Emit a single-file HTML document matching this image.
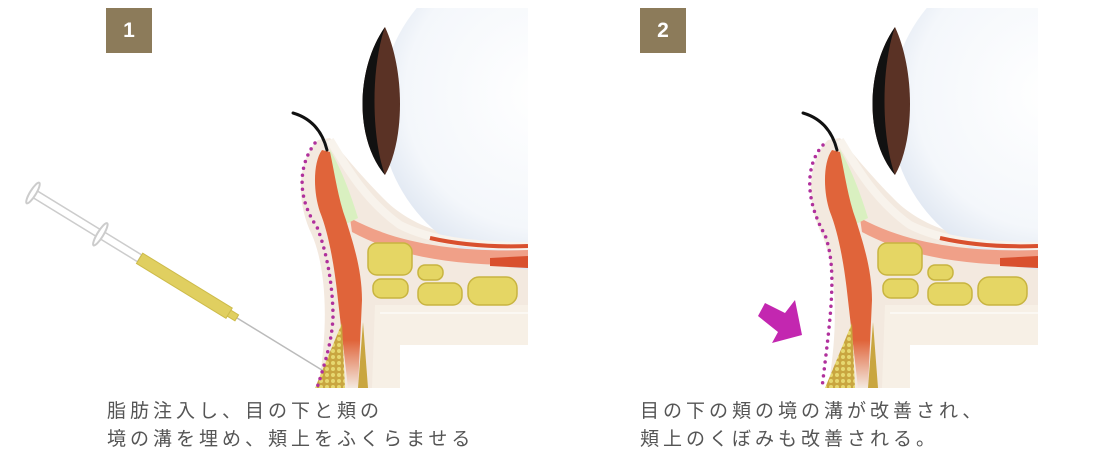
<!DOCTYPE html>
<html><head><meta charset="utf-8"><style>
html,body{margin:0;padding:0;background:#fff;}
body{width:1100px;height:466px;overflow:hidden;position:relative;font-family:"Liberation Sans","Noto Sans CJK JP",sans-serif;}
.badge{position:absolute;top:8px;width:46px;height:45px;background:#8c7b5a;color:#fff;font-weight:bold;font-size:21px;text-align:center;line-height:45px;}
.cap{position:absolute;top:398px;font-size:19px;letter-spacing:4px;line-height:28px;color:#555;font-family:"Liberation Sans","Noto Sans CJK JP",sans-serif;white-space:nowrap;}
svg{position:absolute;left:0;top:0;}
</style></head><body>
<svg width="1100" height="466" viewBox="0 0 1100 466">
<defs>
<radialGradient id="eg" cx="0.5" cy="0.45" r="0.6">
<stop offset="0" stop-color="#ffffff"/><stop offset="0.7" stop-color="#f4f7fb"/><stop offset="1" stop-color="#d8e1ee"/>
</radialGradient>
<linearGradient id="og" x1="0" y1="0" x2="0" y2="1">
<stop offset="0.8" stop-color="#e0643a"/><stop offset="1" stop-color="#f3e9df"/>
</linearGradient>
<pattern id="dots" width="6" height="6" patternUnits="userSpaceOnUse">
<rect width="6" height="6" fill="#c9a640"/><circle cx="3" cy="3" r="2" fill="#e6d870"/>
</pattern>
<clipPath id="cp"><rect x="290" y="8" width="238" height="380"/></clipPath>
<g id="anat">
<g clip-path="url(#cp)">
<path d="M318,140 C298,160 295,200 312,235 C325,265 330,320 318,388 L400,388 L400,345 L528,345 L528,240 C480,245 420,235 385,200 C360,175 340,150 330,138 Z" fill="#f3e9df"/>
<path d="M375,305 L528,305 L528,345 L400,345 L400,388 L372,388 Z" fill="#f7f0e6"/>
<path d="M380,313 L528,313" stroke="#fbf8f3" stroke-width="2"/>
<circle cx="540" cy="110" r="160" fill="url(#eg)"/>
<path d="M330,140 C345,165 365,200 400,225 C430,240 470,246 528,246" fill="none" stroke="#f8f3ec" stroke-width="8"/>
<path d="M430,238 C465,246 500,247 528,246" fill="none" stroke="#d9502e" stroke-width="4"/>
<path d="M385,27 C355,70 355,140 385,175 C405,140 405,70 385,27 Z" fill="#5a3225"/>
<path d="M385,27 C355,70 355,140 385,175 C372,140 370,70 385,27 Z" fill="#111"/>
<path d="M350,218 C400,245 460,252 528,250 L528,265 C460,266 400,258 352,232 Z" fill="#f0a088"/>
<path d="M490,258 L528,256 L528,268 L490,266 Z" fill="#d9502e" />
<path d="M330,150 C342,170 352,198 358,218 L346,224 C338,200 332,178 326,160 Z" fill="#d9f0c0"/>
<path d="M322,150 C313,162 313,192 320,212 C328,232 334,262 338,300 L348,388 L358,388 L362,300 C362,268 352,240 346,220 C338,198 335,175 330,152 Z" fill="url(#og)"/>
<path d="M342,323 L345,388 L315,388 Z" fill="url(#dots)" />
<path d="M363,322 L368,388 L358,388 Z" fill="#c9a640"/>
<g fill="#e5d664" stroke="#c8b440" stroke-width="1.5">
<rect x="368" y="243" width="44" height="32" rx="9"/>
<rect x="418" y="265" width="25" height="15" rx="7"/>
<rect x="373" y="279" width="35" height="19" rx="8"/>
<rect x="418" y="283" width="44" height="22" rx="9"/>
<rect x="468" y="277" width="49" height="28" rx="11"/>
</g>
</g>
<path d="M293,113 C310,118 322,130 327,150" fill="none" stroke="#111" stroke-width="3" stroke-linecap="round"/>
</g>
</defs>
<use href="#anat"/>
<use href="#anat" transform="translate(510,0)"/>
<g transform="translate(33,193) rotate(31.5)">
<line x1="0" y1="0" x2="340" y2="0" stroke="#bbb" stroke-width="1.5"/>
<rect x="0" y="-4" width="125" height="8" fill="#fff" stroke="#ccc" stroke-width="1.5"/>
<ellipse cx="0" cy="0" rx="3" ry="12" fill="#fff" stroke="#ccc" stroke-width="2"/>
<ellipse cx="79" cy="0" rx="3" ry="13" fill="#fff" stroke="#ccc" stroke-width="2"/>
<rect x="125" y="-6" width="105" height="12" fill="#e0cf60" stroke="#cdbb4a" stroke-width="1"/>
<rect x="230" y="-3.5" width="9" height="7" fill="#e0cf60" stroke="#cdbb4a" stroke-width="1"/>
</g>
<path d="M315,143 C297,167 298,200 317,227 C328,255 333,290 333,317 C332,340 326,360 317,388" fill="none" stroke="#b0309c" stroke-width="3.5" stroke-linecap="round" stroke-dasharray="0 7"/>
<path d="M823,145 C805,165 805,200 825,235 C838,270 830,320 822,388" fill="none" stroke="#b0309c" stroke-width="3.5" stroke-linecap="round" stroke-dasharray="0 7"/>
<polygon points="765,303 758,316 778,332 772,343 802,335 795,300 785,313" fill="#c327b0"/>
</svg>
<div class="badge" style="left:106px">1</div>
<div class="badge" style="left:640px">2</div>
<div class="cap" style="left:107px">脂肪注入し、目の下と頬の<br>境の溝を埋め、頬上をふくらませる</div>
<div class="cap" style="left:640px">目の下の頬の境の溝が改善され、<br>頬上のくぼみも改善される。</div>
</body></html>
